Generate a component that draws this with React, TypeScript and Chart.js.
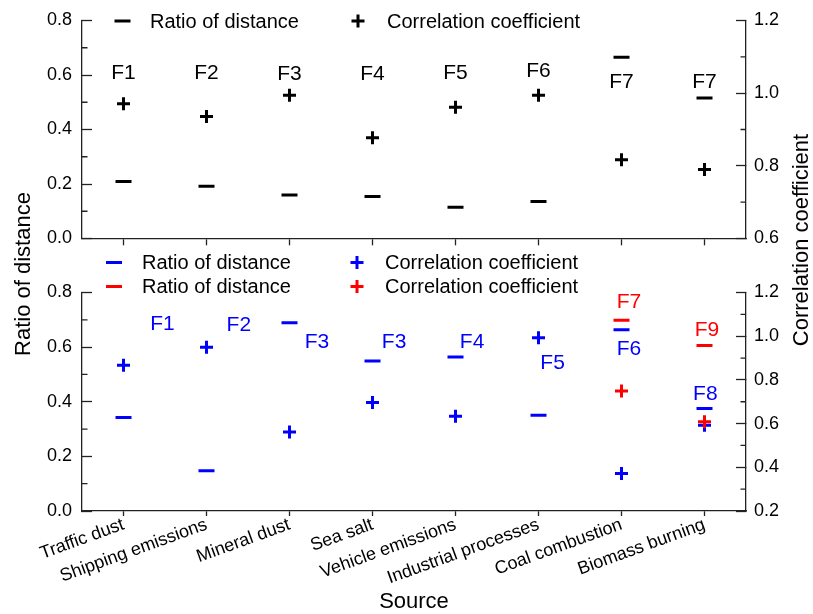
import React, { useEffect, useRef } from 'react';
import { Chart, registerables } from 'chart.js';

Chart.register(...registerables);

// ---------------- data ----------------
const categories = [
  'Traffic dust',
  'Shipping emissions',
  'Mineral dust',
  'Sea salt',
  'Vehicle emissions',
  'Industrial processes',
  'Coal combustion',
  'Biomass burning',
];

// upper panel (black)
const topRatio = [0.209, 0.192, 0.160, 0.154, 0.115, 0.136, 0.665, 0.516];
const topCorrelation = [0.971, 0.936, 0.994, 0.877, 0.961, 0.994, 0.817, 0.790];

// lower panel (blue / red)
const bottomBlueRatio = [0.342, 0.147, 0.689, 0.549, 0.564, 0.351, 0.664, 0.375];
const bottomRedRatio = [null, null, null, null, null, null, 0.698, 0.606];
const bottomBlueCorrelation = [0.867, 0.950, 0.562, 0.696, 0.634, 0.993, 0.372, 0.593];
const bottomRedCorrelation = [null, null, null, null, null, null, 0.749, 0.608];

// axis ranges / ticks
const ratioRange = [0, 0.8];
const topCorrRange = [0.6, 1.2];
const bottomCorrRange = [0.2, 1.2];
const majorStep = 0.2;

// factor annotations (category index, axis value)
const topFactorLabels = ['F1', 'F2', 'F3', 'F4', 'F5', 'F6', 'F7', 'F7'];
const topFactorY = [0.606, 0.606, 0.602, 0.602, 0.606, 0.613, 0.572, 0.572];

const bottomFactorLabels = ['F1', 'F2', 'F3', 'F3', 'F4', 'F5', 'F6', 'F7', 'F9', 'F8'];
const bottomFactorSeries = ['blue', 'blue', 'blue', 'blue', 'blue', 'blue', 'blue', 'red', 'red', 'blue'];
const bottomFactorX = [0.47, 1.39, 2.33, 3.26, 4.2, 5.17, 6.09, 6.09, 7.03, 7.01];
const bottomFactorY = [0.683, 0.681, 0.618, 0.618, 0.617, 0.542, 0.591, 0.765, 0.661, 0.427];

// ---------------- styles ----------------
const FONT = '"Liberation Sans", Arial, Helvetica, sans-serif';
const INK = '#000000';
const AXIS = '#222222';
const BLUE = '#0000ff';
const RED = '#ff0000';
const COLORS: Record<string, string> = { black: INK, blue: BLUE, red: RED };
const AXIS_W = 1.3;

function drawMarker(ctx: CanvasRenderingContext2D, style: string, x: number, y: number, color: string) {
  ctx.save();
  ctx.strokeStyle = color;
  ctx.lineWidth = 3;
  ctx.lineCap = 'butt';
  ctx.beginPath();
  if (style === 'line') {
    ctx.moveTo(x - 8, y);
    ctx.lineTo(x + 8, y);
  } else {
    ctx.moveTo(x - 6.5, y);
    ctx.lineTo(x + 6.5, y);
    ctx.moveTo(x, y - 6.5);
    ctx.lineTo(x, y + 6.5);
  }
  ctx.stroke();
  ctx.restore();
}

// minor ticks, pointing inwards
const minorTicksPlugin = {
  id: 'minorTicks',
  afterDraw(chart: any) {
    const ctx = chart.ctx as CanvasRenderingContext2D;
    const ids = ['yTop', 'yBot', 'yTopR', 'yBotR'];
    ctx.save();
    ctx.strokeStyle = AXIS;
    ctx.lineWidth = AXIS_W;
    ctx.beginPath();
    for (const id of ids) {
      const s = chart.scales[id];
      const left = s.options.position === 'left';
      const x0 = left ? s.right : s.left;
      const dir = left ? 1 : -1;
      for (let v = s.min + majorStep / 2; v < s.max - 1e-9; v += majorStep) {
        const y = s.getPixelForValue(v);
        ctx.moveTo(x0, y);
        ctx.lineTo(x0 + dir * 5.5, y);
      }
    }
    ctx.stroke();
    ctx.restore();
  },
};

// legends, factor labels and side titles
const decorPlugin = {
  id: 'decor',
  afterDatasetsDraw(chart: any) {
    const ctx = chart.ctx as CanvasRenderingContext2D;
    const { x, yTop, yBot } = chart.scales;
    const area = chart.chartArea;

    // factor labels
    ctx.save();
    ctx.font = `21px ${FONT}`;
    ctx.textAlign = 'center';
    ctx.textBaseline = 'middle';
    topFactorLabels.forEach((t, i) => {
      ctx.fillStyle = INK;
      ctx.fillText(t, x.getPixelForValue(i), yTop.getPixelForValue(topFactorY[i]));
    });
    bottomFactorLabels.forEach((t, i) => {
      ctx.fillStyle = COLORS[bottomFactorSeries[i]];
      ctx.fillText(t, x.getPixelForValue(bottomFactorX[i]), yBot.getPixelForValue(bottomFactorY[i]));
    });
    ctx.restore();

    // legends
    const L = area.left;
    const legendItems = [
      { style: 'line', color: INK, text: 'Ratio of distance', mx: L + 40.5, tx: L + 68, y: yTop.top + 0.5 },
      { style: 'cross', color: INK, text: 'Correlation coefficient', mx: L + 276, tx: L + 305, y: yTop.top + 0.5 },
      { style: 'line', color: BLUE, text: 'Ratio of distance', mx: L + 32, tx: L + 60, y: yBot.top - 30 },
      { style: 'cross', color: BLUE, text: 'Correlation coefficient', mx: L + 275, tx: L + 303, y: yBot.top - 30 },
      { style: 'line', color: RED, text: 'Ratio of distance', mx: L + 32, tx: L + 60, y: yBot.top - 6 },
      { style: 'cross', color: RED, text: 'Correlation coefficient', mx: L + 275, tx: L + 303, y: yBot.top - 6 },
    ];
    ctx.save();
    ctx.font = `20px ${FONT}`;
    ctx.textAlign = 'left';
    ctx.textBaseline = 'middle';
    ctx.fillStyle = INK;
    for (const it of legendItems) {
      drawMarker(ctx, it.style, it.mx, it.y, it.color);
      ctx.fillText(it.text, it.tx, it.y + 1);
    }
    ctx.restore();

    // side axis titles (both read bottom-to-top)
    const titles = [
      { text: 'Ratio of distance', x: 23.5, y: 274 },
      { text: 'Correlation coefficient', x: 801.5, y: 240 },
    ];
    ctx.save();
    ctx.font = `22px ${FONT}`;
    ctx.fillStyle = INK;
    ctx.textAlign = 'center';
    ctx.textBaseline = 'middle';
    for (const t of titles) {
      ctx.save();
      ctx.translate(t.x, t.y);
      ctx.rotate(-Math.PI / 2);
      ctx.fillText(t.text, 0, 0);
      ctx.restore();
    }
    ctx.restore();
  },
};

// ---------------- scales ----------------
const tickFont = { family: FONT, size: 18 };
const fmt = (v: any) => Number(v).toFixed(1);
const LEFT_W = 74;
const RIGHT_W = 67;

function fixBox(position: 'left' | 'right') {
  return (s: any) => {
    s.width = position === 'left' ? LEFT_W : RIGHT_W;
    s.paddingTop = 0;
    s.paddingBottom = 0;
  };
}

function valueAxis(position: 'left' | 'right', range: number[], weight: number, stackWeight: number) {
  return {
    type: 'linear',
    position,
    stack: 'panels',
    stackWeight,
    weight,
    min: range[0],
    max: range[1],
    border: { display: true, color: AXIS, width: AXIS_W },
    grid: {
      display: true,
      drawOnChartArea: false,
      drawTicks: true,
      tickLength: -10,
      tickColor: AXIS,
      tickWidth: AXIS_W,
    },
    ticks: {
      stepSize: majorStep,
      padding: position === 'left' ? 20 : 18,
      font: tickFont,
      color: INK,
      callback: fmt,
    },
    afterFit: fixBox(position),
  };
}

function gapAxis(position: 'left' | 'right', weight: number) {
  return {
    type: 'linear',
    position,
    stack: 'panels',
    stackWeight: 54,
    weight,
    min: 0,
    max: 1,
    display: true,
    border: { display: false },
    grid: { display: false, drawTicks: false },
    ticks: { display: false },
    afterFit: fixBox(position),
  };
}

export default function App() {
  const ref = useRef<HTMLCanvasElement>(null);

  useEffect(() => {
    if (!ref.current) return;
    const pt = (style: string, color: string) => ({
      showLine: false,
      pointStyle: style,
      pointRadius: style === 'line' ? 8 : 6.5,
      pointHoverRadius: style === 'line' ? 8 : 6.5,
      pointBorderWidth: 3,
      pointHoverBorderWidth: 3,
      pointBorderColor: color,
      pointBackgroundColor: color,
      borderColor: color,
      backgroundColor: color,
      xAxisID: 'x',
    });

    const chart = new Chart(ref.current, {
      type: 'line',
      data: {
        labels: categories,
        datasets: [
          { label: 'Ratio of distance', data: topRatio, yAxisID: 'yTop', order: 1, ...pt('line', INK) },
          { label: 'Correlation coefficient', data: topCorrelation, yAxisID: 'yTopR', order: 1, ...pt('cross', INK) },
          { label: 'Ratio of distance', data: bottomBlueRatio, yAxisID: 'yBot', order: 2, ...pt('line', BLUE) },
          { label: 'Correlation coefficient', data: bottomBlueCorrelation, yAxisID: 'yBotR', order: 2, ...pt('cross', BLUE) },
          { label: 'Ratio of distance', data: bottomRedRatio, yAxisID: 'yBot', order: 0, ...pt('line', RED) },
          { label: 'Correlation coefficient', data: bottomRedCorrelation, yAxisID: 'yBotR', order: 0, ...pt('cross', RED) },
        ] as any,
      },
      options: {
        responsive: false,
        animation: false,
        events: [],
        devicePixelRatio: 1,
        layout: { padding: { left: 8, right: 0, top: 20.5, bottom: 0 } },
        plugins: {
          legend: { display: false },
          tooltip: { enabled: false },
          title: { display: false },
        },
        scales: {
          x: {
            type: 'category',
            position: 'bottom',
            offset: true,
            border: { display: true, color: AXIS, width: AXIS_W },
            grid: {
              display: true,
              drawOnChartArea: false,
              drawTicks: true,
              tickLength: 5,
              offset: false,
              tickColor: AXIS,
              tickWidth: AXIS_W,
            },
            ticks: {
              autoSkip: false,
              minRotation: 20,
              maxRotation: 20,
              padding: -2,
              font: tickFont,
              color: INK,
            },
            title: {
              display: true,
              text: 'Source',
              color: INK,
              font: { family: FONT, size: 22, lineHeight: 1 },
              padding: { top: 0, bottom: 1 },
            },
            afterFit: (s: any) => {
              s.height = 103;
            },
          },
          xTop: {
            type: 'category',
            labels: categories,
            position: { yTop: 0 },
            offset: true,
            border: { display: true, color: AXIS, width: AXIS_W },
            grid: {
              display: true,
              drawOnChartArea: false,
              drawTicks: true,
              tickLength: 6,
              offset: false,
              tickColor: AXIS,
              tickWidth: AXIS_W,
            },
            ticks: { display: false },
          },
          yTop: valueAxis('left', ratioRange, 3, 218),
          yGap: gapAxis('left', 2),
          yBot: valueAxis('left', ratioRange, 1, 218.5),
          yTopR: valueAxis('right', topCorrRange, 1, 218),
          yGapR: gapAxis('right', 2),
          yBotR: valueAxis('right', bottomCorrRange, 3, 218.5),
        } as any,
      },
      plugins: [minorTicksPlugin, decorPlugin],
    } as any);

    return () => chart.destroy();
  }, []);

  return (
    <div style={{ position: 'fixed', left: 0, top: 0, width: 813, height: 614, background: '#ffffff' }}>
      <canvas ref={ref} width={813} height={614} style={{ display: 'block' }} />
    </div>
  );
}
